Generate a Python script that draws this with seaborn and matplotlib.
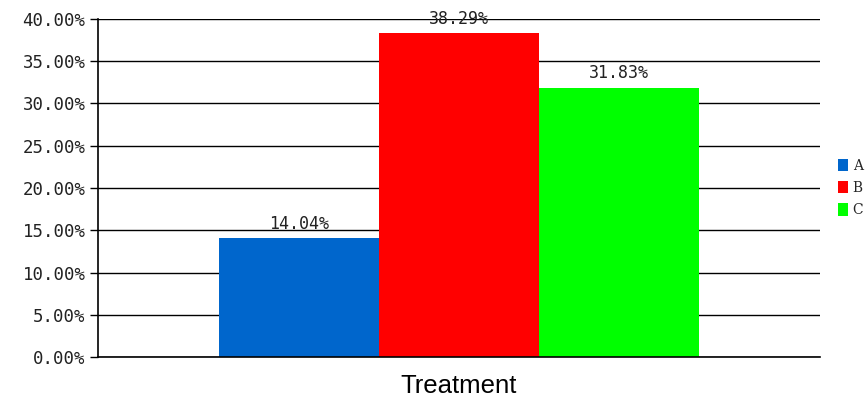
import pandas as pd
import numpy as np
import matplotlib
matplotlib.use('Agg')
import matplotlib.pyplot as plt
import seaborn as sns
from matplotlib.ticker import FuncFormatter

sns.set_theme(style='white')

groups = ['A', 'B', 'C']
values = [14.04, 38.29, 31.83]
colors = ['#0066cc', '#ff0000', '#00ff00']
category = 'Treatment'

df = pd.DataFrame({'x': [category] * 3, 'group': groups, 'value': values})

fig = plt.figure(figsize=(8.65, 3.98), dpi=100)
ax = fig.add_axes([98 / 865, 1 - 357 / 398, 722 / 865, 338 / 398])

sns.barplot(data=df, x='x', y='value', hue='group', palette=colors,
            width=0.665, saturation=1, linewidth=0, ax=ax, legend=True)

ax.set_ylim(0, 40)
ax.set_xlim(-0.5, 0.5)
ax.set_yticks(np.arange(0, 40.1, 5))
ax.yaxis.set_major_formatter(FuncFormatter(lambda v, p: f'{v:.2f}%'))
ax.grid(axis='y', color='black', linewidth=1)
ax.set_axisbelow(True)
for s in ['top', 'right']:
    ax.spines[s].set_visible(False)
for s in ['left', 'bottom']:
    ax.spines[s].set_color('black')
    ax.spines[s].set_linewidth(1.2)
ax.tick_params(axis='y', left=True, length=6, color='black', width=1, labelsize=12.5, pad=3)
ax.tick_params(axis='x', bottom=False, labelsize=18.5, pad=6)
for lab in ax.get_yticklabels():
    lab.set_family('DejaVu Sans Mono')
    lab.set_color('#222222')
for lab in ax.get_xticklabels():
    lab.set_family('Liberation Sans')
    lab.set_color('black')
ax.set_xlabel('')
ax.set_ylabel('')

for c in ax.containers:
    ax.bar_label(c, labels=[f'{v:.2f}%' for v in c.datavalues], padding=4,
                 fontsize=12, family='DejaVu Sans Mono', color='#222222')

leg = ax.legend(loc='center left', bbox_to_anchor=(1.025, 0.5), frameon=False,
                borderpad=0, borderaxespad=0,
                handlelength=0.75, handleheight=1.0, handletextpad=0.3,
                labelspacing=0.6, prop={'family': 'DejaVu Serif', 'size': 10})

fig.savefig('out.png', dpi=100)
